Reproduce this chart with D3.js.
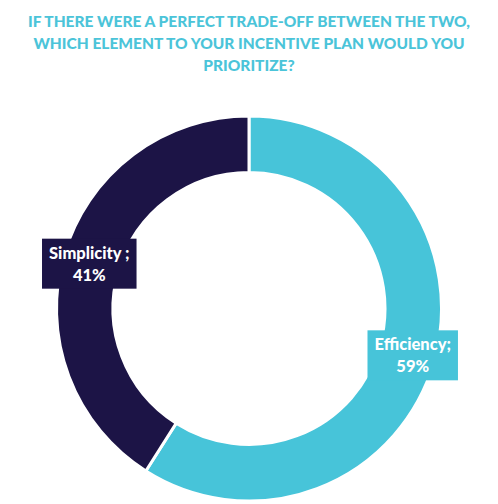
<!DOCTYPE html>
<html lang="en">
<head>
    <meta charset="UTF-8">
    <title>Incentive plan trade-off</title>
    <script src="https://cdnjs.cloudflare.com/ajax/libs/d3/7.8.5/d3.min.js"></script>
    <style>
        body {
            margin: 0;
            background: #fff;
        }
        svg {
            display: block;
        }
        .title {
            font-family: Lato, "Open Sans", sans-serif;
            font-weight: 900;
            font-size: 15.5px;
            fill: #4bc4d9;
        }
        .label {
            font-family: Lato, "Open Sans", sans-serif;
            font-weight: 900;
            font-size: 16.5px;
            fill: #fff;
        }
    </style>
</head>
<body>
    <svg width="498" height="504"></svg>

    <script>
        const titleLines = [
            "IF THERE WERE A PERFECT TRADE-OFF BETWEEN THE TWO,",
            "WHICH ELEMENT TO YOUR INCENTIVE PLAN WOULD YOU",
            "PRIORITIZE?"
        ];

        const categories = ["Efficiency", "Simplicity"];
        const values = [59, 41];
        const labelNames = ["Efficiency;", "Simplicity ;"];
        const colors = ["#47c4d9", "#1c1446"];

        const svg = d3.select("svg");
        const width = 498;
        const cx = 249, cy = 308.5;
        const outerR = 192.5, innerR = 136;

        // title
        svg.selectAll(".title")
            .data(titleLines)
            .enter()
            .append("text")
            .attr("class", "title")
            .attr("x", width / 2)
            .attr("y", (d, i) => 27 + i * 22)
            .attr("text-anchor", "middle")
            .text(d => d);

        const data = categories.map((c, i) => ({ name: c, value: values[i], label: labelNames[i], color: colors[i] }));

        const pie = d3.pie().sort(null).value(d => d.value);
        const arc = d3.arc().innerRadius(innerR).outerRadius(outerR);
        const arcs = pie(data);

        const g = svg.append("g").attr("transform", `translate(${cx},${cy})`);

        g.selectAll("path")
            .data(arcs)
            .enter()
            .append("path")
            .attr("d", arc)
            .attr("fill", d => d.data.color)
            .attr("stroke", "#fff")
            .attr("stroke-width", 3);

        // labels in coloured boxes at arc centroids
        const labels = g.selectAll(".lab")
            .data(arcs)
            .enter()
            .append("g")
            .attr("class", "lab")
            .attr("transform", d => {
                const c = arc.centroid(d);
                return `translate(${c[0] + (d.index === 0 ? 6 : -2)},${c[1]})`;
            });

        labels.each(function(d) {
            const sel = d3.select(this);
            const txt = sel.append("text")
                .attr("class", "label")
                .attr("text-anchor", "middle");
            txt.append("tspan").attr("x", 0).attr("y", -4).text(d.data.label);
            txt.append("tspan").attr("x", 0).attr("y", 18).text(d.data.value + "%");
            const bb = txt.node().getBBox();
            sel.insert("rect", "text")
                .attr("x", -(bb.width + 14) / 2)
                .attr("y", -24)
                .attr("width", bb.width + 14)
                .attr("height", 50)
                .attr("fill", d.data.color);
        });
    </script>
</body>
</html>
